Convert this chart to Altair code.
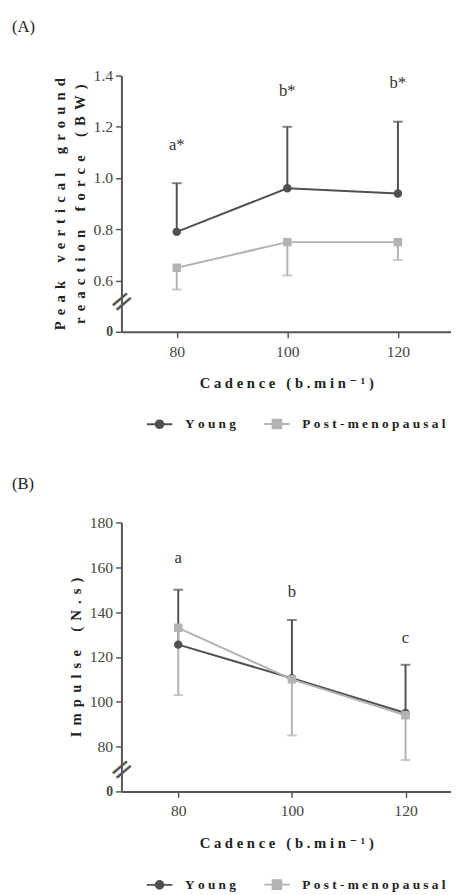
import altair as alt
import pandas as pd

SERIF = "Liberation Serif, Times New Roman, Times, DejaVu Serif, serif"
NB = "\u00a0"
GAP = "\u2004\u200a"

cadence = [80, 100, 120]
groups = ["Young", "Post-menopausal"]
group_colors = ["#505050", "#b3b3b3"]
marker_shapes = ["circle", "square"]
legend_paths = [
    "M-1,0H1M0.3,0A0.3,0.3,0,1,1,-0.3,0A0.3,0.3,0,1,1,0.3,0Z",
    "M-1,0H1M-0.34,-0.34H0.34V0.34H-0.34Z",
]

# Panel A: peak vertical ground reaction force (BW)
a_young_mean = [0.79, 0.96, 0.94]
a_young_bar_end = [0.98, 1.20, 1.22]
a_post_mean = [0.65, 0.75, 0.75]
a_post_bar_end = [0.565, 0.62, 0.68]
a_letters = ["a*", "b*", "b*"]
a_letter_pos = [1.13, 1.34, 1.37]
a_ticks = [0.4, 0.6, 0.8, 1.0, 1.2, 1.4]
a_tick_labels = ["0", "0.6", "0.8", "1.0", "1.2", "1.4"]
a_break = 0.52
a_title = ["Peak vertical ground", "reaction force (BW)"]
a_x_domain = [70, 129.6]

# Panel B: impulse (N.s)
b_young_mean = [125.5, 110.5, 95.0]
b_young_bar_end = [150.0, 136.5, 116.5]
b_post_mean = [133.0, 110.0, 94.0]
b_post_bar_end = [103.0, 85.0, 74.0]
b_letters = ["a", "b", "c"]
b_letter_pos = [164.0, 149.0, 128.5]
b_ticks = [60, 80, 100, 120, 140, 160, 180]
b_tick_labels = ["0", "80", "100", "120", "140", "160", "180"]
b_break = 70
b_title = "Impulse (N.s)"
b_x_domain = [70, 128.0]

x_title = "Cadence (b.min⁻¹)"
x_ticks = [80, 100, 120]

AXIS_GREY = "#555555"


def spaced(s, gap=NB, word_gap=NB * 3):
    return word_gap.join(gap.join(w) for w in s.split(" "))


def panel(label, ym, ye, pm, pe, letters, letter_pos, ticks, tick_labels,
          brk, ytitle, x_domain, width, height, legend_y, label_x, label_y):
    rows = []
    for i, c in enumerate(cadence):
        rows.append({"cadence": c, "group": groups[0], "mean": ym[i], "end": ye[i]})
    for i, c in enumerate(cadence):
        rows.append({"cadence": c, "group": groups[1], "mean": pm[i], "end": pe[i]})
    df = pd.DataFrame(rows)
    ann = pd.DataFrame({"cadence": cadence, "y": letter_pos, "text": letters})

    label_expr = "[" + ",".join(f"'{t}'" for t in tick_labels) + "][indexof([" + \
        ",".join(str(t) for t in ticks) + "], datum.value)]"
    low_test = f"datum.value == {ticks[0]}"

    ysp = lambda t: spaced(t, GAP, GAP * 3)
    ytitle_txt = [ysp(t) for t in ytitle] if isinstance(ytitle, list) else ysp(ytitle)

    xs = alt.Scale(domain=x_domain, nice=False, zero=False)
    ys = alt.Scale(domain=[ticks[0], ticks[-1]], nice=False, zero=False)
    xenc = alt.X("cadence:Q", scale=xs, axis=alt.Axis(
        values=x_ticks, title=spaced(x_title), grid=False, domainColor=AXIS_GREY, domainWidth=2,
        tickColor=AXIS_GREY, tickWidth=1.5, tickSize=6, labelFont=SERIF, labelFontSize=16,
        labelColor="#444444", labelPadding=6, titleFont=SERIF, titleFontSize=15,
        titleFontWeight="bold", titleColor="#222222", titlePadding=17))
    yaxis = alt.Axis(values=ticks, labelExpr=label_expr, title=ytitle_txt, grid=False,
                     domainColor=AXIS_GREY, domainWidth=2, tickColor=AXIS_GREY,
                     tickWidth=1.5, tickSize=6, labelFont=SERIF,
                     labelFontSize={"condition": {"test": low_test, "value": 14}, "value": 16},
                     labelFontWeight={"condition": {"test": low_test, "value": "bold"}, "value": "normal"},
                     labelColor="#444444", labelPadding=3, titleFont=SERIF,
                     titleFontSize=15, titleFontWeight="bold", titleColor="#222222",
                     titlePadding=6, titleLineHeight=20)
    color = alt.Color("group:N", scale=alt.Scale(domain=groups, range=group_colors), legend=None)

    base = alt.Chart(df)
    bars = base.mark_rule(strokeWidth=2).encode(
        x=xenc, y=alt.Y("mean:Q", scale=ys, axis=yaxis), y2="end:Q", color=color)
    caps = base.mark_tick(orient="horizontal", size=10, thickness=2).encode(
        x="cadence:Q", y="end:Q", color=color)
    lines = base.mark_line(strokeWidth=2).encode(
        x="cadence:Q", y="mean:Q", color=color, detail="group:N")
    pts = [
        base.transform_filter(alt.datum.group == g).mark_point(
            filled=True, size=75, opacity=1, shape=s).encode(
            x="cadence:Q", y="mean:Q", color=color)
        for g, s in zip(groups, marker_shapes)
    ]

    leg = alt.Legend(orient="none", legendX=25, legendY=legend_y, direction="horizontal",
                     title=None, symbolSize=676, symbolStrokeWidth=2, symbolOpacity=1,
                     labelFont=SERIF, labelFontSize=13.6, labelFontWeight="bold",
                     labelColor="#222222", labelOffset=12, columnPadding=24,
                     labelExpr="join(split(datum.label, ''), '" + NB + "')")
    legend_layer = base.mark_point(filled=True, opacity=0).encode(
        x="cadence:Q", y="mean:Q",
        fill=alt.Fill("group:N", scale=alt.Scale(domain=groups, range=group_colors), legend=leg),
        stroke=alt.Stroke("group:N", scale=alt.Scale(domain=groups, range=group_colors), legend=leg),
        shape=alt.Shape("group:N", scale=alt.Scale(domain=groups, range=legend_paths), legend=leg),
    )

    letters_layer = alt.Chart(ann).mark_text(font=SERIF, fontSize=17, color="#333333",
                                             baseline="middle").encode(
        x="cadence:Q", y="y:Q", text="text:N")

    brk_layer = alt.Chart(pd.DataFrame({"x": [x_domain[0]], "y": [brk]})).mark_text(
        text="=", font="DejaVu Sans", fontSize=30, angle=320, color=AXIS_GREY,
        baseline="middle", dy=1).encode(x="x:Q", y="y:Q")

    lab = alt.Chart(pd.DataFrame({"t": [label]})).mark_text(
        font=SERIF, fontSize=17, align="left", baseline="middle", color="#222222").encode(
        text="t:N", x=alt.value(label_x), y=alt.value(label_y))

    return alt.layer(legend_layer, bars, caps, lines, *pts, letters_layer, brk_layer, lab).properties(
        width=width, height=height)


pa = panel("(A)", a_young_mean, a_young_bar_end, a_post_mean, a_post_bar_end, a_letters,
           a_letter_pos, a_ticks, a_tick_labels, a_break, a_title, a_x_domain, 337, 262,
           342, -112, -50)
pb = panel("(B)", b_young_mean, b_young_bar_end, b_post_mean, b_post_bar_end, b_letters,
           b_letter_pos, b_ticks, b_tick_labels, b_break, b_title, b_x_domain, 337, 275,
           356, -112, -39)

chart = alt.vconcat(pa, pb, spacing=44).resolve_scale(
    color="independent", fill="independent", stroke="independent", shape="independent",
    x="independent", y="independent").resolve_legend(
    fill="independent", stroke="independent", shape="independent").properties(
    padding={"left": 4, "top": 0, "right": 0, "bottom": 0}).configure_view(stroke=None)

chart.save("out.html", embed_options={"renderer": "svg", "actions": False})
